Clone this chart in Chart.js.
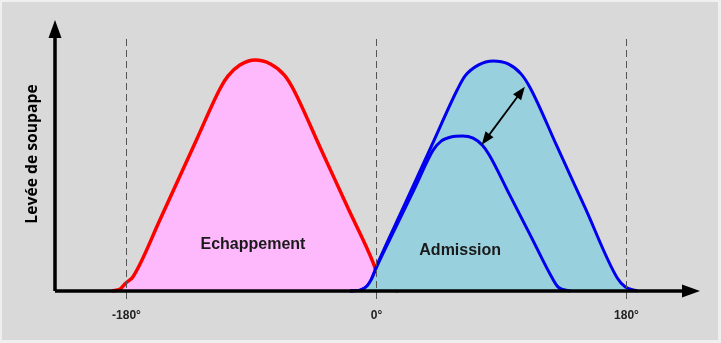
<!DOCTYPE html>
<html>
<head>
<meta charset="utf-8">
<script src="https://cdn.jsdelivr.net/npm/chart.js@4"></script>
<style>
  body { margin: 0; background: #d9d9d9; }
  canvas { display: block; }
</style>
</head>
<body>
<canvas id="levee" width="721" height="343"></canvas>
<script>
// crank angle (deg) and valve lift (arbitrary units)
var echapX = [-190, -184, -180, -175, -155, -130, -112, -106.5, -98, -87, -76, -66, -60, -40, -20, -2, 1, 6, 10, 16];
var echapY = [0, 0.09, 0.35, 0.61, 3.15, 6.44, 8.79, 9.31, 9.78, 10, 9.83, 9.35, 8.79, 6.18, 3.56, 1.21, 0.7, 0.33, 0.09, 0];

var admX = [-18.7, -11.5, -6.5, -3.6, 0.7, 20, 40, 58.3, 64, 73.4, 84.2, 95, 104.4, 110.9, 130, 150, 173.5, 179.3, 188];
var admY = [0, 0.04, 0.22, 0.48, 1.13, 3.67, 6.3, 8.7, 9.31, 9.78, 9.96, 9.83, 9.39, 8.79, 6.28, 3.65, 0.56, 0.17, 0];

var admReduiteX = [-18.7, -11.5, -6.5, -3.6, 0.7, 14, 28, 41, 46.8, 54, 61.9, 69.8, 76.3, 81.4, 96, 111, 126.7, 131, 139.7];
var admReduiteY = [0, 0.04, 0.22, 0.48, 1.08, 2.74, 4.48, 6.1, 6.49, 6.67, 6.71, 6.62, 6.32, 5.89, 4.17, 2.41, 0.56, 0.17, 0];

var tickValues = [-180, 0, 180];
var tickLabels = ['-180°', '0°', '180°'];

function pts(xs, ys) {
  return xs.map(function(x, i) { return { x: x, y: ys[i] }; });
}

function arrowHead(ctx, x1, y1, x2, y2, len, half) {
  var a = Math.atan2(y2 - y1, x2 - x1);
  ctx.beginPath();
  ctx.moveTo(x2, y2);
  ctx.lineTo(x2 - len * Math.cos(a) + half * Math.sin(a), y2 - len * Math.sin(a) - half * Math.cos(a));
  ctx.lineTo(x2 - len * Math.cos(a) - half * Math.sin(a), y2 - len * Math.sin(a) + half * Math.cos(a));
  ctx.closePath();
  ctx.fill();
}

var decor = {
  id: 'decor',
  beforeDraw: function(chart) {
    var ctx = chart.ctx;
    ctx.save();
    ctx.fillStyle = '#efefef';
    ctx.fillRect(0, 0, chart.width, chart.height);
    ctx.fillStyle = '#d9d9d9';
    ctx.fillRect(2, 2, chart.width - 5, chart.height - 5);
    ctx.restore();
  },
  afterDatasetsDraw: function(chart) {
    var ctx = chart.ctx, xs = chart.scales.x, ys = chart.scales.y, a = chart.chartArea;
    var y0 = ys.getPixelForValue(0);
    ctx.save();

    // dashed guides + tick labels
    ctx.strokeStyle = '#555';
    ctx.lineWidth = 1;
    ctx.setLineDash([7, 4]);
    ctx.font = 'bold 12px "Liberation Sans", Arial, sans-serif';
    ctx.fillStyle = '#222';
    ctx.textAlign = 'center';
    ctx.textBaseline = 'middle';
    tickValues.forEach(function(v, i) {
      var px = Math.round(xs.getPixelForValue(v)) + 0.5;
      ctx.beginPath();
      ctx.moveTo(px, a.top);
      ctx.lineTo(px, y0 + 12);
      ctx.stroke();
      ctx.fillText(tickLabels[i], px, y0 + 25);
    });
    ctx.setLineDash([]);

    // axes with arrows
    ctx.strokeStyle = '#000';
    ctx.fillStyle = '#000';
    ctx.lineWidth = 3.5;
    ctx.beginPath();
    ctx.moveTo(a.left, y0);
    ctx.lineTo(a.right - 16, y0);
    ctx.moveTo(a.left, y0);
    ctx.lineTo(a.left, 36);
    ctx.stroke();
    arrowHead(ctx, a.left, y0, a.right, y0, 18, 6.5);
    arrowHead(ctx, a.left, y0, a.left, 20, 18, 6.5);

    // double arrow between the two intake lifts
    var p1x = xs.getPixelForValue(76), p1y = ys.getPixelForValue(6.33);
    var p2x = xs.getPixelForValue(107), p2y = ys.getPixelForValue(8.84);
    ctx.lineWidth = 1.8;
    ctx.beginPath();
    ctx.moveTo(p1x + (p2x - p1x) * 0.15, p1y + (p2y - p1y) * 0.15);
    ctx.lineTo(p1x + (p2x - p1x) * 0.85, p1y + (p2y - p1y) * 0.85);
    ctx.stroke();
    arrowHead(ctx, p2x, p2y, p1x, p1y, 13, 5);
    arrowHead(ctx, p1x, p1y, p2x, p2y, 13, 5);

    // labels
    ctx.fillStyle = '#1a1a1a';
    ctx.font = 'bold 16px "Liberation Sans", Arial, sans-serif';
    ctx.fillText('Echappement', xs.getPixelForValue(-88.6), ys.getPixelForValue(1.99));
    ctx.fillText('Admission', xs.getPixelForValue(60.5), ys.getPixelForValue(1.77));

    ctx.translate(33, 154);
    ctx.rotate(-Math.PI / 2);
    ctx.font = 'bold 15.7px "Open Sans", sans-serif';
    ctx.fillStyle = '#000';
    ctx.fillText('Levée de soupape', 0, 0);
    ctx.restore();
  }
};

new Chart(document.getElementById('levee'), {
  type: 'line',
  data: {
    datasets: [{
      label: 'Echappement',
      data: pts(echapX, echapY),
      borderColor: '#ff0000',
      backgroundColor: '#fdb9fb',
      fill: 'origin',
      borderWidth: 3.5,
      order: 3
    }, {
      label: 'Admission',
      data: pts(admX, admY),
      borderColor: '#0000ee',
      backgroundColor: '#99d0de',
      fill: 'origin',
      borderWidth: 3,
      order: 2
    }, {
      label: 'Admission réduite',
      data: pts(admReduiteX, admReduiteY),
      borderColor: '#0000ee',
      backgroundColor: '#99d0de',
      fill: 'origin',
      borderWidth: 3,
      order: 1
    }]
  },
  options: {
    responsive: false,
    animation: false,
    clip: false,
    layout: { padding: { left: 55, right: 21, top: 39, bottom: 52 } },
    elements: {
      point: { radius: 0 },
      line: { cubicInterpolationMode: 'monotone', capBezierPoints: true }
    },
    scales: {
      x: { type: 'linear', min: -231, max: 233, display: false },
      y: { min: 0, max: 10.91, display: false }
    },
    plugins: {
      legend: { display: false },
      tooltip: { enabled: false }
    }
  },
  plugins: [decor]
});
</script>
</body>
</html>
